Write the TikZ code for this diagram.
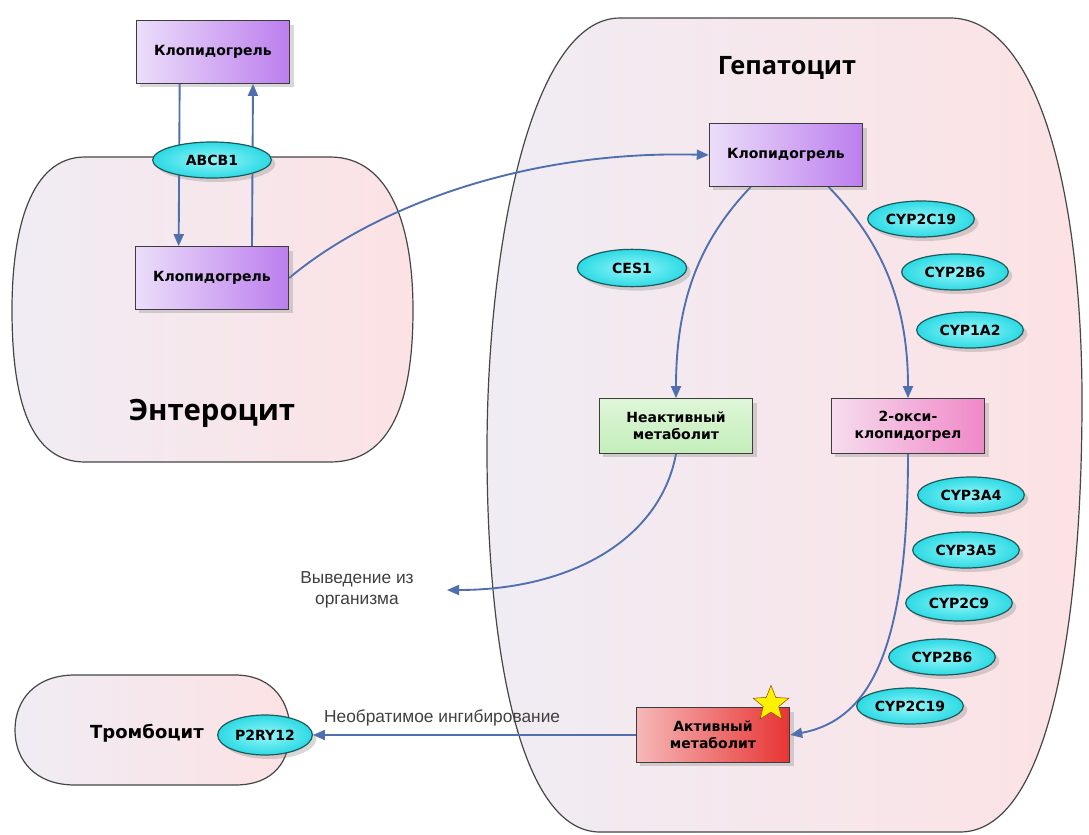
\documentclass[tikz,border=0pt]{standalone}
\usepackage{fontspec}
\setmainfont{Liberation Sans}
\newfontfamily\boxfont{DejaVu Sans}
\newfontfamily\cellfont{Open Sans}
\usetikzlibrary{arrows.meta, shapes.geometric, shadows}

\definecolor{flowblue}{RGB}{79,111,175}
\definecolor{cellline}{RGB}{70,70,70}
\definecolor{cellL}{RGB}{240,236,244}
\definecolor{cellR}{RGB}{252,226,228}
\definecolor{boxline}{RGB}{60,60,60}
\definecolor{purpleL}{RGB}{236,222,250}
\definecolor{purpleR}{RGB}{188,126,238}
\definecolor{greenL}{RGB}{222,246,216}
\definecolor{greenR}{RGB}{196,238,186}
\definecolor{pinkL}{RGB}{246,220,238}
\definecolor{pinkR}{RGB}{240,136,200}
\definecolor{redL}{RGB}{246,184,184}
\definecolor{redR}{RGB}{232,52,52}
\definecolor{cyanIn}{RGB}{150,246,250}
\definecolor{cyanOut}{RGB}{44,218,228}
\definecolor{enzline}{RGB}{30,90,92}

\pgfdeclarelayer{background}
\pgfdeclarelayer{edges}
\pgfsetlayers{background,edges,main}

\begin{document}
\begin{tikzpicture}[x=0.75pt, y=-0.75pt, >={Triangle[length=9pt,width=7.5pt]},
    cell/.style={draw=cellline, line width=0.9pt, left color=cellL, right color=cellR},
    drugbox/.style={draw=boxline, line width=0.8pt, minimum width=115pt, minimum height=47pt,
        align=center, font=\boxfont\bfseries\fontsize{10.5}{13}\selectfont,
        drop shadow={opacity=0.3, shadow xshift=3pt, shadow yshift=-3pt}},
    metabox/.style={drugbox, minimum height=41pt},
    enzyme/.style={ellipse, draw=enzline, line width=0.9pt, inner color=cyanIn, outer color=cyanOut,
        minimum width=80pt, minimum height=27pt, inner sep=0pt,
        font=\boxfont\bfseries\fontsize{10.5}{12}\selectfont,
        drop shadow={opacity=0.3, shadow xshift=3pt, shadow yshift=-3pt}},
    flow/.style={->, draw=flowblue, line width=1.4pt}]
    \useasboundingbox (0,0) rectangle (1089,835);

    % Cells
    \begin{pgfonlayer}{background}
        \fill[white] (0,0) rectangle (1089,835);
        % Enterocyte
        \draw[cell] (85,157) -- (330,157) .. controls (392,157) and (413,230) .. (413,310)
            .. controls (413,400) and (392,462) .. (330,462) -- (85,462)
            .. controls (30,462) and (12,400) .. (12,310)
            .. controls (12,230) and (30,157) .. (85,157) -- cycle;
        % Hepatocyte
        \draw[cell] (620,18) -- (950,18) .. controls (1040,18) and (1082,200) .. (1082,400)
            .. controls (1082,620) and (1050,832) .. (960,832) -- (600,832)
            .. controls (520,832) and (487,650) .. (487,450)
            .. controls (487,250) and (530,18) .. (620,18) -- cycle;
        % Thrombocyte
        \draw[cell] (75,675) -- (235,675) .. controls (275,675) and (290,705) .. (290,730)
            .. controls (290,760) and (275,785) .. (235,785) -- (75,785)
            .. controls (35,785) and (15,760) .. (15,730)
            .. controls (15,700) and (35,675) .. (75,675) -- cycle;
    \end{pgfonlayer}

    % Cell titles
    \node[font=\cellfont\bfseries\fontsize{22}{26}\selectfont] (entTitle) at (212,413) {Энтероцит};
    \node[font=\cellfont\bfseries\fontsize{19}{23}\selectfont] (hepTitle) at (787,68) {Гепатоцит};
    \node[font=\boxfont\bfseries\fontsize{13.5}{16}\selectfont] (thrTitle) at (147,733) {Тромбоцит};

    % Clopidogrel boxes
    \node[drugbox, left color=purpleL, right color=purpleR] (clopOut) at (213,52) {Клопидогрель};
    \node[drugbox, left color=purpleL, right color=purpleR] (clopEnt) at (212,278) {Клопидогрель};
    \node[drugbox, left color=purpleL, right color=purpleR] (clopHep) at (786,155) {Клопидогрель};

    % Metabolites
    \node[metabox, top color=greenL, bottom color=greenR] (inact) at (676,426) {Неактивный\\метаболит};
    \node[metabox, left color=pinkL, right color=pinkR] (oxy) at (908,426) {2-окси-\\клопидогрел};
    \node[metabox, left color=redL, right color=redR] (active) at (713,735) {Активный\\метаболит};
    \node[star, star points=5, star point ratio=2.3, draw=orange!60!black, fill=yellow,
        minimum size=28pt, inner sep=0pt] (star) at (771,704) {};

    % Enzymes
    \node[enzyme, minimum width=89pt] (abcb) at (212,160) {ABCB1};
    \node[enzyme, minimum width=82pt, minimum height=28pt] (ces) at (632,268) {CES1};
    \node[enzyme] (cyp2c19a) at (921,219) {CYP2C19};
    \node[enzyme] (cyp2b6a) at (955,272) {CYP2B6};
    \node[enzyme] (cyp1a2) at (970,330) {CYP1A2};
    \node[enzyme] (cyp3a4) at (971,495) {CYP3A4};
    \node[enzyme] (cyp3a5) at (966,550) {CYP3A5};
    \node[enzyme] (cyp2c9) at (959,603) {CYP2C9};
    \node[enzyme] (cyp2b6b) at (942,657) {CYP2B6};
    \node[enzyme] (cyp2c19b) at (910,706) {CYP2C19};
    \node[enzyme, minimum width=71pt, minimum height=30pt] (p2ry) at (265,735) {P2RY12};

    % Excretion
    \coordinate (outTip) at (447,590);
    \node[align=center, font=\fontsize{13}{16}\selectfont, text=black!75] (outText) at (357,590) {Выведение из\\организма};

    % Connectors
    \begin{pgfonlayer}{edges}
        \draw[flow] ([xshift=-25pt]clopOut.south) -- ([xshift=-25pt]clopEnt.north);
        \draw[flow] ([xshift=30pt]clopEnt.north) -- ([xshift=30pt]clopOut.south);
        \draw[flow] (clopEnt.east) .. controls (370,210) and (520,150) .. (clopHep.west);
        \draw[flow] ([xshift=31.5pt]clopHep.south west) .. controls (700,240) and (676,300) .. (inact.north);
        \draw[flow] ([xshift=-26pt]clopHep.south east) .. controls (880,240) and (908,300) .. (oxy.north);
        \draw[flow] (oxy.south) .. controls (908,650) and (870,720) .. (active.east);
        \draw[flow] (inact.south) .. controls (660,540) and (570,590) .. (outTip);
        \draw[flow] (active.west) -- (p2ry.east)
            node[pos=0.6, above=3pt, text=black!75, font=\fontsize{13}{16}\selectfont] {Необратимое ингибирование};
    \end{pgfonlayer}
\end{tikzpicture}
\end{document}
